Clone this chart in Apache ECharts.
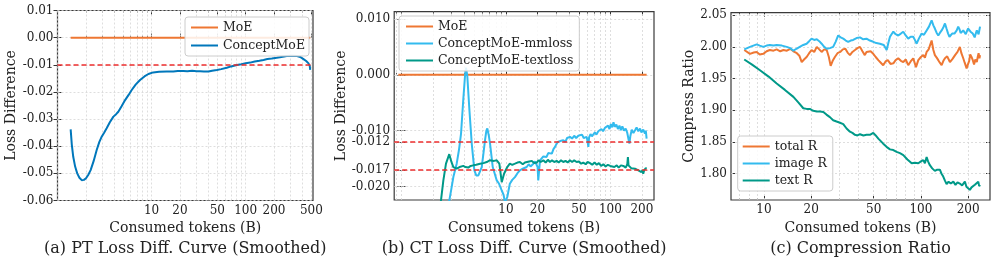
<!DOCTYPE html>
<html><head><meta charset="utf-8">
<script src="https://cdn.jsdelivr.net/npm/echarts@6/dist/echarts.min.js"></script>
<style>html,body{margin:0;padding:0;background:#fff}#c{width:996px;height:262px}</style>
</head><body><div id="c"></div><script>
// ---------- data (tokens in B, value) ----------
const aMoE = [[1.38, 0], [486, 0]];
const aConcept = [[1.38,-0.0338],[1.42,-0.0395],[1.47,-0.0439],[1.54,-0.0475],[1.62,-0.0500],[1.71,-0.0516],[1.81,-0.0525],[1.91,-0.0524],[2.01,-0.0518],[2.12,-0.0506],[2.25,-0.0488],[2.42,-0.0455],[2.61,-0.0414],[2.78,-0.0385],[2.95,-0.0365],[3.13,-0.0350],[3.33,-0.0334],[3.6,-0.0312],[3.93,-0.0291],[4.2,-0.0282],[4.43,-0.0273],[4.8,-0.0253],[5.23,-0.0230],[5.7,-0.0211],[6.15,-0.0193],[6.8,-0.0172],[7.54,-0.0156],[8.4,-0.0143],[9.25,-0.0134],[10.4,-0.0128],[12,-0.0126],[14.5,-0.0125],[17,-0.0125],[19,-0.0123],[21.8,-0.0123],[24,-0.0124],[27,-0.0122],[30,-0.0124],[32.8,-0.0124],[36,-0.0125],[40.2,-0.0125],[44,-0.0122],[49.4,-0.0119],[55,-0.0116],[63,-0.0111],[70,-0.0106],[80.6,-0.0101],[90,-0.0098],[100,-0.0094],[112,-0.0092],[125,-0.0088],[140,-0.0085],[155,-0.0082],[170,-0.0079],[190,-0.0077],[214,-0.0074],[240,-0.0071],[274,-0.0068],[310,-0.0067],[351,-0.0068],[380,-0.0071],[412,-0.0079],[440,-0.0086],[466,-0.0095],[480,-0.0104],[486,-0.0119]];

const bMoE = [[0.934, 0], [222, 0]];
const bMM = [[2.75,-0.0245],[3.0,-0.0205],[3.14,-0.0183],[3.38,-0.0159],[3.55,-0.0135],[3.72,-0.0105],[3.91,-0.0044],[4.06,-0.0002],[4.15,0.0013],[4.27,-0.0002],[4.47,-0.0062],[4.71,-0.0123],[4.99,-0.0171],[5.2,-0.0180],[5.45,-0.0180],[5.87,-0.0165],[6.1,-0.0140],[6.31,-0.0117],[6.5,-0.0100],[6.64,-0.0096],[6.85,-0.0108],[7.05,-0.0123],[7.48,-0.0165],[8.17,-0.0189],[8.6,-0.0195],[9.12,-0.0207],[9.5,-0.0215],[9.8,-0.0228],[10.05,-0.0230],[10.3,-0.0219],[10.9,-0.0195],[11.5,-0.0188],[12.2,-0.0183],[12.9,-0.0176],[13.6,-0.0171],[14.5,-0.0168],[15.8,-0.0165],[16.5,-0.0160],[17.2,-0.0164],[18.3,-0.0159],[19.0,-0.0155],[19.7,-0.0153],[20.1,-0.0165],[20.4,-0.0189],[20.8,-0.0170],[21.2,-0.0153],[22.0,-0.0150],[22.8,-0.0146],[23.6,-0.0144],[24.5,-0.0147],[25.4,-0.0140],[26.4,-0.0138],[27.5,-0.0141],[28.5,-0.0133],[29.5,-0.0129],[30.4,-0.0124],[31.3,-0.0120],[32.5,-0.0122],[33.8,-0.0118],[35.4,-0.0117],[37,-0.0120],[38.5,-0.0113],[40,-0.0116],[41,-0.0111],[43,-0.0114],[45,-0.0109],[47,-0.0113],[49.3,-0.0109],[51.5,-0.0112],[53.5,-0.0107],[55.5,-0.0113],[57.5,-0.0110],[59.3,-0.0111],[60.5,-0.0120],[61.5,-0.0129],[62.5,-0.0112],[64.5,-0.0106],[66.5,-0.0110],[68.5,-0.0108],[71,-0.0103],[73.5,-0.0107],[76.5,-0.0101],[79.4,-0.0102],[82,-0.0097],[85,-0.0101],[88.5,-0.0095],[92,-0.0096],[95,-0.0091],[98,-0.0097],[101,-0.0088],[104,-0.0094],[107,-0.0085],[110,-0.0093],[114,-0.0089],[118,-0.0097],[122,-0.0091],[126,-0.0099],[130,-0.0092],[135,-0.0100],[140,-0.0096],[145,-0.0104],[150,-0.0118],[152,-0.0123],[155,-0.0110],[160,-0.0098],[166,-0.0104],[172,-0.0099],[178,-0.0094],[185,-0.0101],[192,-0.0096],[198,-0.0103],[206,-0.0098],[214,-0.0105],[218,-0.0100],[222,-0.0114]];
const bText = [[2.3,-0.0245],[2.39,-0.0225],[2.52,-0.0189],[2.67,-0.0159],[2.87,-0.0142],[3.0,-0.0155],[3.14,-0.0165],[3.38,-0.0168],[3.6,-0.0165],[3.91,-0.0163],[4.1,-0.0165],[4.36,-0.0166],[4.6,-0.0163],[4.87,-0.0162],[5.2,-0.0161],[5.65,-0.0159],[6.1,-0.0158],[6.55,-0.0156],[7.0,-0.0153],[7.31,-0.0152],[7.7,-0.0154],[8.17,-0.0153],[8.65,-0.0159],[9.12,-0.0192],[9.6,-0.0177],[10.3,-0.0165],[10.9,-0.0159],[11.5,-0.0161],[12.2,-0.0159],[12.9,-0.0157],[13.6,-0.0156],[14.5,-0.0160],[15.2,-0.0157],[15.8,-0.0159],[16.7,-0.0155],[17.7,-0.0154],[18.7,-0.0158],[19.7,-0.0157],[20.5,-0.0153],[21.5,-0.0156],[22.8,-0.0153],[24,-0.0157],[25.2,-0.0152],[26.4,-0.0156],[27.6,-0.0153],[29,-0.0156],[30.6,-0.0154],[32,-0.0157],[33.7,-0.0153],[35.4,-0.0156],[37.2,-0.0154],[39,-0.0157],[41,-0.0153],[43,-0.0156],[45,-0.0153],[47.5,-0.0156],[50,-0.0155],[52.5,-0.0159],[55,-0.0157],[58,-0.0160],[60.5,-0.0156],[63.8,-0.0158],[67,-0.0161],[70.5,-0.0157],[74,-0.0161],[77.5,-0.0158],[81.5,-0.0163],[85.6,-0.0160],[90,-0.0164],[94.5,-0.0161],[99.6,-0.0163],[104,-0.0160],[109,-0.0165],[115,-0.0162],[120,-0.0166],[126,-0.0162],[133,-0.0163],[140,-0.0166],[145,-0.0160],[147,-0.0147],[149,-0.0162],[152,-0.0165],[158,-0.0167],[165,-0.0164],[172,-0.0168],[178,-0.0165],[185,-0.0171],[192,-0.0169],[198,-0.0174],[203,-0.0170],[206,-0.0177],[210,-0.0171],[215,-0.0174],[218,-0.0167],[222,-0.0168]];

const cTotal = [[7.49,1.995],[8.15,1.989],[8.6,1.991],[8.99,1.992],[9.4,1.988],[9.9,1.989],[10.4,1.993],[10.9,1.995],[11.5,1.994],[12.05,1.996],[12.7,1.993],[13.3,1.995],[14,1.994],[14.7,1.997],[15.4,1.993],[16.2,1.990],[16.8,1.986],[17.4,1.976],[18.0,1.980],[18.7,1.984],[19.4,1.990],[20.1,1.995],[20.9,1.992],[21.7,2.000],[22.5,1.996],[23.3,1.992],[24.2,1.996],[25.1,1.995],[25.9,1.984],[26.6,1.970],[27.4,1.978],[28.3,1.984],[29.4,1.990],[30.6,1.992],[31.8,1.996],[33,1.997],[34.1,1.991],[35.3,1.987],[36.6,1.992],[38,1.995],[39.4,1.998],[40.9,2.000],[42.4,1.993],[43.9,1.987],[45,1.992],[46,1.995],[47.8,1.993],[49.7,1.989],[51.5,1.984],[53.5,1.979],[55.5,1.975],[57.5,1.971],[59.5,1.977],[61.5,1.979],[64,1.973],[66.7,1.974],[69,1.979],[71.7,1.982],[74.5,1.978],[77.2,1.976],[80,1.980],[83,1.971],[86,1.977],[89.3,1.982],[93,1.968],[96.2,1.979],[100,1.984],[103.5,1.987],[106,1.983],[108.7,1.992],[112,1.996],[117,2.010],[120,1.995],[122.7,1.987],[126,1.983],[129,1.979],[132,1.975],[135.5,1.971],[139,1.978],[142.3,1.982],[147,1.985],[153,1.976],[159,1.981],[165,1.987],[171,1.992],[177,2.000],[181,1.990],[186,1.982],[190,1.975],[195.4,1.966],[199,1.972],[203,1.978],[206,1.988],[210,1.984],[214,1.979],[218,1.972],[222,1.980],[227,1.976],[230,1.984],[233,1.990],[236,1.982],[238,1.987]];
const cImage = [[7.49,1.996],[8.15,2.000],[8.99,2.004],[9.4,2.002],[9.9,2.000],[10.4,2.002],[10.9,2.003],[11.5,2.002],[12.05,2.003],[13,2.002],[13.96,2.000],[14.7,1.998],[15.4,1.994],[16.1,1.997],[16.9,2.000],[17.8,2.003],[18.7,2.005],[19.4,2.009],[20.1,2.013],[20.9,2.011],[21.7,2.012],[22.5,2.009],[23.3,2.005],[24.2,2.000],[25.1,1.997],[26.3,1.998],[27.6,2.000],[28.6,2.008],[29.7,2.018],[30.8,2.015],[32,2.013],[33.2,2.010],[34.4,2.008],[35.7,2.010],[37,2.011],[38.9,2.014],[40.9,2.015],[42.9,2.012],[45,2.013],[47.3,2.010],[49.7,2.008],[52,2.006],[54.8,2.005],[58,2.003],[60.5,1.995],[62,2.006],[63.5,2.016],[65,2.020],[66.7,2.024],[69,2.020],[71.7,2.018],[74.5,2.021],[77.2,2.024],[80,2.018],[83,2.013],[86,2.016],[89.3,2.016],[91.5,2.011],[93.9,2.005],[97,2.013],[101,2.021],[104.5,2.019],[108.7,2.026],[112.5,2.032],[117,2.042],[120,2.034],[122.7,2.029],[126,2.022],[129,2.018],[132,2.022],[135.5,2.026],[139,2.031],[142.3,2.037],[145.5,2.029],[149,2.021],[152,2.016],[155,2.018],[158,2.021],[160.8,2.024],[163.5,2.021],[166,2.019],[169,2.026],[172.8,2.032],[176,2.028],[179,2.022],[182,2.024],[186,2.026],[190,2.023],[193,2.020],[196.5,2.025],[200,2.029],[203.5,2.027],[207,2.024],[210,2.022],[213.8,2.021],[217,2.018],[220,2.015],[223.5,2.021],[227,2.026],[230,2.023],[233,2.020],[235.5,2.026],[238,2.032]];
const cText = [[7.49,1.980],[8.4,1.972],[9.43,1.963],[10.7,1.953],[12.05,1.942],[13.6,1.932],[15.4,1.921],[16.6,1.912],[17.8,1.903],[18.7,1.902],[19.6,1.902],[20.6,1.899],[21.7,1.898],[22.8,1.898],[23.9,1.897],[25,1.893],[26.3,1.889],[27.6,1.884],[29,1.882],[30.5,1.880],[32,1.878],[33.6,1.871],[35.3,1.866],[36.6,1.864],[38,1.861],[39.4,1.860],[40.9,1.862],[43,1.860],[45,1.861],[47.3,1.861],[49.7,1.864],[51.5,1.860],[53.5,1.855],[55.5,1.851],[57.5,1.847],[60.4,1.842],[63.5,1.838],[66.7,1.837],[70,1.834],[73.5,1.832],[77.2,1.829],[82,1.822],[87.3,1.816],[91.5,1.817],[96.2,1.816],[100,1.819],[103.5,1.821],[106,1.816],[108.7,1.826],[111,1.819],[114,1.813],[118,1.808],[122.7,1.804],[127,1.806],[132,1.806],[135,1.800],[138.7,1.795],[142,1.789],[145.7,1.783],[150,1.787],[155,1.784],[160.8,1.787],[166,1.782],[171,1.786],[177,1.784],[183,1.781],[190.5,1.787],[195,1.779],[200,1.776],[205,1.774],[210,1.778],[215,1.776],[220.6,1.782],[226,1.784],[231.9,1.787],[235,1.780],[238,1.782]];

// ---------- ticks ----------
const xMajorA = [10, 20, 50, 100, 200, 500];
const xMajorBC = [10, 20, 50, 100, 200];
const yTicksA = [0.01, 0.00, -0.01, -0.02, -0.03, -0.04, -0.05, -0.06];
const yTicksB = [0.010, 0.000, -0.010, -0.012, -0.017, -0.020];
const yTicksC = [1.80, 1.85, 1.90, 1.95, 2.00, 2.05];
const refA = [-0.01];
const refB = [-0.012, -0.017];

const C = {orange:'#EE7733', blue:'#0077BB', cyan:'#33BBEE', teal:'#009988', red:'#EE2E2E'};
const FONT = 'DejaVu Serif';
const L = Math.log10;

const panels = [
  {grid:{left:57.5, top:10.5, width:255.5, height:190}, xr:[0, L(520)], yr:[-0.06, 0.01],
   majors:xMajorA, yt:yTicksA, ydec:2, ref:refA, yname:'Loss Difference', ygap:36, caption:'(a) PT Loss Diff. Curve (Smoothed)'},
  {grid:{left:394.2, top:11.7, width:259.8, height:188.3}, xr:[-0.069, 2.417], yr:[-0.0224, 0.0113],
   majors:xMajorBC, yt:yTicksB, ydec:3, ref:refB, yname:'Loss Difference', ygap:44, caption:'(b) CT Loss Diff. Curve (Smoothed)'},
  {grid:{left:731, top:12.7, width:259, height:187.3}, xr:[0.79, 2.44], yr:[1.758, 2.054],
   majors:xMajorBC, yt:yTicksC, ydec:2, ref:[], yname:'Compress Ratio', ygap:33, caption:'(c) Compression Ratio'}
];

function minorsFor(xr, majors){
  const out = [];
  for (let k = -1; k <= 3; k++) for (let n = 1; n <= 9; n++) {
    const v = n * Math.pow(10, k);
    const lv = L(v);
    if (lv >= xr[0] && lv <= xr[1] && majors.indexOf(Math.round(v*1000)/1000) < 0) out.push(v);
  }
  return out;
}
const toXY = arr => arr.map(p => [L(p[0]), p[1]]);

const grids = [], xAxes = [], yAxes = [], series = [], graphics = [];
const tickColor = '#333';
panels.forEach((p, i) => {
  grids.push(Object.assign({show:true, borderColor:'#3a3a3a', borderWidth:1.2, backgroundColor:'transparent'}, p.grid));
  const minors = minorsFor(p.xr, p.majors);
  const majL = p.majors.map(L), minL = minors.map(L);
  const baseX = {type:'value', gridIndex:i, min:p.xr[0], max:p.xr[1], axisLine:{show:false}, splitLine:{show:false}};
  xAxes.push(Object.assign({}, baseX, {position:'bottom',
    axisTick:{show:true, inside:true, length:4, customValues:majL, lineStyle:{color:tickColor, width:1}},
    axisLabel:{show:true, customValues:majL, margin:4, fontFamily:FONT, fontSize:12, color:'#222',
      formatter: v => String(Math.round(Math.pow(10, v)))},
    name:'Consumed tokens (B)', nameLocation:'middle', nameGap:18,
    nameTextStyle:{fontFamily:FONT, fontSize:14, color:'#222'}}));
  xAxes.push(Object.assign({}, baseX, {position:'bottom', axisLabel:{show:false},
    axisTick:{show:true, inside:true, length:2, customValues:minL, lineStyle:{color:tickColor, width:0.8}}}));
  xAxes.push(Object.assign({}, baseX, {position:'top', axisLabel:{show:false},
    axisTick:{show:true, inside:true, length:4, customValues:majL, lineStyle:{color:tickColor, width:1}}}));
  xAxes.push(Object.assign({}, baseX, {position:'top', axisLabel:{show:false},
    axisTick:{show:true, inside:true, length:2, customValues:minL, lineStyle:{color:tickColor, width:0.8}}}));
  const baseY = {type:'value', gridIndex:i, min:p.yr[0], max:p.yr[1], axisLine:{show:false}, splitLine:{show:false}};
  yAxes.push(Object.assign({}, baseY, {position:'left',
    axisTick:{show:true, inside:true, length:4, customValues:p.yt, lineStyle:{color:tickColor, width:1}},
    axisLabel:{show:true, customValues:p.yt, margin:4, fontFamily:FONT, fontSize:12, color:'#222',
      formatter: v => v.toFixed(p.ydec)},
    name:p.yname, nameLocation:'middle', nameGap:p.ygap,
    nameTextStyle:{fontFamily:FONT, fontSize:14, color:'#222'}}));
  yAxes.push(Object.assign({}, baseY, {position:'right', axisLabel:{show:false},
    axisTick:{show:true, inside:true, length:4, customValues:p.yt, lineStyle:{color:tickColor, width:1}}}));

  // gridlines
  series.push({type:'line', name:'_grid'+i, xAxisIndex:i*4, yAxisIndex:i*2, data:[], silent:true, z:1,
    markLine:{silent:true, precision:6, symbol:['none','none'], z:1, animation:false, label:{show:false},
      lineStyle:{color:'#d6d6d6', width:0.8, type:[2,2]},
      emphasis:{disabled:true},
      data: minL.concat(majL).map(v => ({xAxis:v})).concat(p.yt.map(v => ({yAxis:v})))}});
  graphics.push({type:'text', x:p.grid.left + p.grid.width/2, y:249,
    style:{text:p.caption, font:'16px "' + FONT + '"', fill:'#222', textAlign:'center', textVerticalAlign:'middle'}});
});

function line(name, data, color, gi, z){
  return {type:'line', name, data:toXY(data), xAxisIndex:gi*4, yAxisIndex:gi*2, showSymbol:false, symbol:'none',
    lineStyle:{color, width:2}, itemStyle:{color}, z:z||3, emphasis:{disabled:true}, clip:true};
}
series.push(line('MoE', aMoE, C.orange, 0));
series.push(line('ConceptMoE', aConcept, C.blue, 0));
series.push(line('MoE', bMoE, C.orange, 1));
series.push(line('ConceptMoE-mmloss', bMM, C.cyan, 1));
series.push(line('ConceptMoE-textloss', bText, C.teal, 1));
series.push(line('total R', cTotal, C.orange, 2));
series.push(line('image R', cImage, C.cyan, 2));
series.push(line('text R', cText, C.teal, 2));

panels.forEach((p, i) => {
  if (!p.ref.length) return;
  series.push({type:'line', name:'_ref'+i, xAxisIndex:i*4, yAxisIndex:i*2, data:[], silent:true, z:5,
    markLine:{silent:true, precision:6, symbol:['none','none'], z:5, animation:false, label:{show:false},
      lineStyle:{color:C.red, width:1.5, type:[5,3]}, emphasis:{disabled:true},
      data: p.ref.map(v => ({yAxis:v}))}});
});

const legendBase = {orient:'vertical', backgroundColor:'rgba(255,255,255,0.85)', borderColor:'#cccccc', borderWidth:1,
  borderRadius:3, itemWidth:27, itemHeight:14, itemStyle:{opacity:0}, lineStyle:{width:2},
  textStyle:{fontFamily:FONT, fontSize:12.5, color:'#222'}, selectedMode:false, z:10};
const legends = [
  Object.assign({}, legendBase, {left:185, top:17, padding:[4,4,4,5], itemGap:5, itemTextGap:7, data:['MoE','ConceptMoE']}),
  Object.assign({}, legendBase, {left:399, top:16, padding:[4,6,4,6], itemGap:4, itemTextGap:8, data:['MoE','ConceptMoE-mmloss','ConceptMoE-textloss']}),
  Object.assign({}, legendBase, {left:737.7, top:136, padding:[4,6,4,4], itemGap:4, itemTextGap:8, data:['total R','image R','text R']})
];

const chart = echarts.init(document.getElementById('c'));
chart.setOption({animation:false, backgroundColor:'#fff', textStyle:{fontFamily:FONT},
  grid:grids, xAxis:xAxes, yAxis:yAxes, series, legend:legends, graphic:graphics});
</script></body></html>
